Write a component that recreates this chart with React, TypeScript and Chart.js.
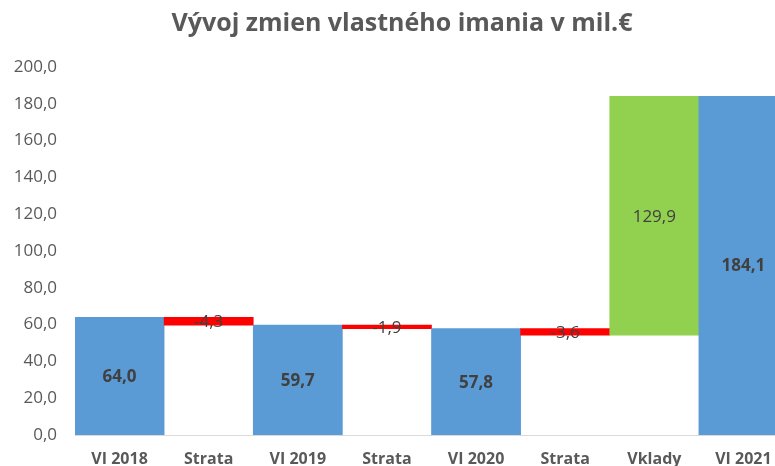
import React, { useEffect, useRef } from "react";
import { Chart, registerables } from "chart.js";

Chart.register(...registerables);

const categories = ["VI 2018", "Strata", "VI 2019", "Strata", "VI 2020", "Strata", "Vklady", "VI 2021"];
const values = [64.0, -4.3, 59.7, -1.9, 57.8, -3.6, 129.9, 184.1];
const kinds = ["total", "loss", "total", "loss", "total", "loss", "gain", "total"];
const yTicks = [0, 20, 40, 60, 80, 100, 120, 140, 160, 180, 200];
const title = "Vývoj zmien vlastného imania v mil.€";

const COLORS: Record<string, string> = { total: "#5B9BD5", loss: "#FF0000", gain: "#92D050" };
const fmt = (v: number) => v.toFixed(1).replace(".", ",");

function buildRanges() {
  let run = 0;
  return values.map((v, i) => {
    if (kinds[i] === "total") {
      run = v;
      return [0, v];
    }
    const start = run;
    run = run + v;
    return [Math.min(start, run), Math.max(start, run)];
  });
}

const labelPlugin = {
  id: "wfLabels",
  afterDatasetsDraw(chart: any) {
    const ctx = chart.ctx;
    const meta = chart.getDatasetMeta(0);
    ctx.save();
    ctx.textAlign = "center";
    ctx.textBaseline = "middle";
    ctx.fillStyle = "#404040";
    meta.data.forEach((el: any, i: number) => {
      const bold = kinds[i] === "total";
      ctx.font = `${bold ? "bold " : ""}17px "Open Sans"`;
      const y = (el.y + el.base) / 2;
      ctx.fillText(fmt(values[i]), el.x, y + 1);
    });
    ctx.restore();
  },
};

const titlePlugin = {
  id: "customTitle",
  afterDraw(chart: any) {
    const ctx = chart.ctx;
    ctx.save();
    ctx.font = 'bold 25px "Open Sans"';
    ctx.fillStyle = "#595959";
    ctx.textAlign = "center";
    ctx.textBaseline = "middle";
    ctx.fillText(title, 402, 24);
    ctx.restore();
  },
};

export default function App() {
  const ref = useRef<HTMLCanvasElement>(null);
  useEffect(() => {
    if (!ref.current) return;
    const chart = new Chart(ref.current, {
      type: "bar",
      data: {
        labels: categories,
        datasets: [
          {
            data: buildRanges() as any,
            backgroundColor: kinds.map((k) => COLORS[k]),
            borderWidth: 0,
            barPercentage: 1,
            categoryPercentage: 1,
          },
        ],
      },
      options: {
        responsive: false,
        animation: false,
        devicePixelRatio: 1,
        layout: { padding: { top: 67, right: 12, left: 0, bottom: 0 } },
        plugins: { legend: { display: false }, title: { display: false }, tooltip: { enabled: false } },
        scales: {
          x: {
            grid: { display: false },
            border: { display: true, color: "#D9D9D9", width: 1 },
            ticks: {
              color: "#595959",
              font: { family: "Open Sans", size: 16, weight: "bold" },
              padding: 7,
              maxRotation: 0,
              autoSkip: false,
            },
            afterFit(scale: any) {
              scale.height = 31;
            },
          },
          y: {
            min: 0,
            max: 200,
            grid: { display: false, drawTicks: false },
            border: { display: false },
            afterBuildTicks(scale: any) {
              scale.ticks = yTicks.map((v) => ({ value: v }));
            },
            ticks: {
              color: "#595959",
              font: { family: "Open Sans", size: 17 },
              padding: 18,
              callback: (v: any) => fmt(Number(v)),
            },
            afterFit(scale: any) {
              scale.width = 75;
            },
          },
        },
      },
      plugins: [labelPlugin, titlePlugin],
    });
    return () => chart.destroy();
  }, []);
  return (
    <div style={{ position: "fixed", left: 0, top: 0, width: 775, height: 466, overflow: "hidden", background: "#fff" }}>
      <canvas ref={ref} width={800} height={466} style={{ display: "block" }} />
    </div>
  );
}
